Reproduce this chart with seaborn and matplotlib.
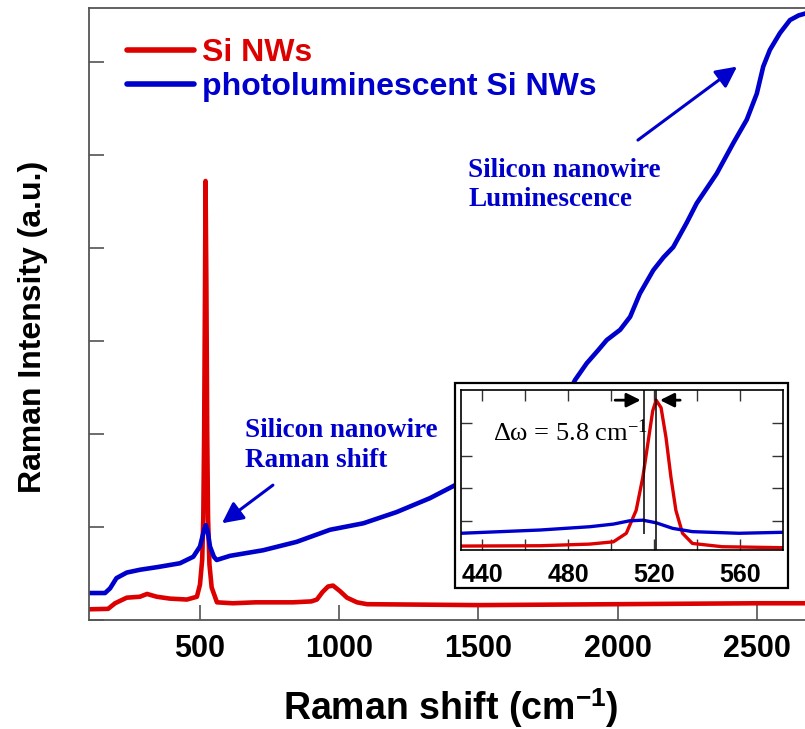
import numpy as np
import pandas as pd
import matplotlib
matplotlib.use("Agg")
import matplotlib.pyplot as plt
import matplotlib.patches as mpatches
import seaborn as sns

# ---------------- data ----------------
series_names = ["Si NWs", "photoluminescent Si NWs"]
series_colors = ["#DD0000", "#0000CC"]

red_x = [100, 170, 195, 237, 284, 310, 345, 392, 453, 489, 500, 508, 512, 515, 518,
         520, 523, 526, 529, 534, 542, 561, 618, 700, 834, 900, 920, 940, 960, 978,
         1003, 1028, 1064, 1100, 1500, 2000, 2500, 2700]
red_y = [0.115, 0.12, 0.18, 0.24, 0.25, 0.28, 0.25, 0.23, 0.22, 0.25, 0.38, 0.65, 1.1,
         2.0, 3.5, 4.72, 3.6, 2.0, 1.1, 0.6, 0.35, 0.19, 0.18, 0.19, 0.19, 0.2, 0.22,
         0.3, 0.36, 0.37, 0.31, 0.24, 0.19, 0.17, 0.16, 0.17, 0.18, 0.18]

blue_x = [100, 159, 177, 200, 237, 284, 350, 428, 476, 500, 515, 521, 528, 536, 550,
          560, 608, 727, 847, 967, 1087, 1206, 1326, 1410, 1500, 1600, 1700, 1800,
          1847, 1889, 1930, 1961, 2009, 2045, 2080, 2128, 2165, 2200, 2248, 2284,
          2320, 2356, 2416, 2464, 2500, 2523, 2547, 2583, 2619, 2650, 2673, 2700]
blue_y = [0.29, 0.29, 0.34, 0.45, 0.51, 0.54, 0.57, 0.61, 0.68, 0.79, 0.97, 1.02,
          0.95, 0.79, 0.68, 0.645, 0.69, 0.75, 0.84, 0.97, 1.04, 1.16, 1.31, 1.44,
          1.58, 1.77, 2.0, 2.3, 2.58, 2.76, 2.90, 3.01, 3.12, 3.26, 3.51, 3.76, 3.90,
          4.01, 4.27, 4.48, 4.64, 4.80, 5.13, 5.38, 5.66, 5.95, 6.13, 6.31, 6.45,
          6.50, 6.52, 6.53]

main_xticks = [500, 1000, 1500, 2000, 2500]
main_yticks = [0, 1, 2, 3, 4, 5, 6]

# inset (zoom on the Si phonon peak)
ins_red_x = [430, 467, 490, 501, 507, 511.6, 514.7, 517, 519.3, 520.9, 523.2, 525.5,
             527.8, 530.1, 533.2, 537.8, 551.7, 580]
ins_red_y = [0.24, 0.25, 0.30, 0.37, 0.63, 1.33, 2.34, 3.35, 4.36, 4.69, 4.46, 3.55,
             2.34, 1.33, 0.63, 0.32, 0.22, 0.19]
ins_blue_x = [430, 467, 490, 501, 508.5, 514.7, 520.9, 528.6, 537.8, 559.4, 580]
ins_blue_y = [0.63, 0.73, 0.83, 0.91, 1.01, 1.03, 0.95, 0.78, 0.68, 0.63, 0.66]
ins_major_ticks = [440, 480, 520, 560]
ins_minor_ticks = [460, 500, 540]
ins_yticks = [1, 2, 3, 4]
peak_positions = [515.1, 520.9]

# ---------------- style ----------------
sns.set_style("ticks")
plt.rcParams["font.family"] = ["Liberation Sans", "DejaVu Sans"]
plt.rcParams["mathtext.fontset"] = "custom"
plt.rcParams["mathtext.rm"] = "Liberation Serif"
plt.rcParams["mathtext.it"] = "Liberation Serif:italic"
plt.rcParams["mathtext.bf"] = "Liberation Sans:bold"
for k in ["text.color", "axes.labelcolor", "xtick.labelcolor", "ytick.labelcolor"]:
    plt.rcParams[k] = "black"

W, H = 805, 729
fig = plt.figure(figsize=(W / 100, H / 100), dpi=100)

def fx(px):
    return px / W

def fy(py):
    return 1 - py / H

# main axes (right end extends a bit past the figure edge)
x_left_px, x_right_px, y_top_px, y_bot_px = 88.6, 812.5, 8, 620
ax = fig.add_axes([fx(x_left_px), fy(y_bot_px), (x_right_px - x_left_px) / W,
                   (y_bot_px - y_top_px) / H])

df = pd.concat([
    pd.DataFrame({"shift": red_x, "intensity": red_y, "sample": series_names[0]}),
    pd.DataFrame({"shift": blue_x, "intensity": blue_y, "sample": series_names[1]}),
])
palette = dict(zip(series_names, series_colors))
sns.lineplot(data=df, x="shift", y="intensity", hue="sample", palette=palette,
             linewidth=3.3, ax=ax, sort=False, estimator=None)

ax.set_xlim(100, 2700)
ax.set_ylim(0, 6.58)
ax.set_xticks(main_xticks)
ax.set_xticklabels([str(t) for t in main_xticks], fontsize=22, fontweight="bold")
ax.set_yticks(main_yticks)
ax.set_yticklabels([])
ax.tick_params(axis="both", direction="in", length=11, width=1.1, color="#444444")
ax.tick_params(axis="x", pad=10)
for s in ["left", "top", "bottom"]:
    ax.spines[s].set_color("#555555")
    ax.spines[s].set_linewidth(1.3)
ax.spines["right"].set_visible(False)

ax.set_xlabel(r"Raman shift (cm$^{\mathbf{-1}}$)", fontsize=27, fontweight="bold")
ax.xaxis.set_label_coords(0.4997, -0.108)
ax.set_ylabel("Raman Intensity (a.u.)", fontsize=23, fontweight="bold")
ax.yaxis.set_label_coords(-0.056, 0.479)

leg = ax.legend(loc="upper left", bbox_to_anchor=(0.035, 0.972), frameon=False,
                prop={"weight": "bold", "size": 23}, labelcolor="linecolor",
                handlelength=2.1, handletextpad=0.25, labelspacing=0.12,
                borderaxespad=0)
for line in leg.get_lines():
    line.set_linewidth(4)

blue_txt = "#0000CC"
serif = ["Liberation Serif", "DejaVu Serif"]
ax.text(662, 2.17, "Silicon nanowire\nRaman shift", color=blue_txt, fontsize=19.5,
        fontweight="bold", family=serif, va="top", ha="left", linespacing=1.25)
ax.annotate("", xy=(579, 1.04), xytext=(762, 1.45),
            arrowprops=dict(arrowstyle="-|>,head_length=0.7,head_width=0.35",
                            color=blue_txt, lw=2.2, mutation_scale=18,
                            shrinkA=0, shrinkB=0))
ax.text(1463, 4.97, "Silicon nanowire\nLuminescence", color=blue_txt, fontsize=19.5,
        fontweight="bold", family=serif, va="top", ha="left", linespacing=1.25)
ax.annotate("", xy=(2429, 5.95), xytext=(2073, 5.16),
            arrowprops=dict(arrowstyle="-|>,head_length=0.7,head_width=0.35",
                            color=blue_txt, lw=2.2, mutation_scale=18,
                            shrinkA=0, shrinkB=0))

# ---------------- inset ----------------
frame = mpatches.Rectangle((fx(455), fy(588)), 333 / W, 205 / H,
                           transform=fig.transFigure, facecolor="white",
                           edgecolor="black", linewidth=1.6, zorder=1)
fig.patches.append(frame)

axi = fig.add_axes([fx(461), fy(550), 322 / W, 160 / H], zorder=2)
dfi = pd.concat([
    pd.DataFrame({"shift": ins_red_x, "intensity": ins_red_y, "sample": series_names[0]}),
    pd.DataFrame({"shift": ins_blue_x, "intensity": ins_blue_y, "sample": series_names[1]}),
])
sns.lineplot(data=dfi, x="shift", y="intensity", hue="sample", palette=palette,
             linewidth=2.4, ax=axi, sort=False, estimator=None, legend=False)
axi.set_xlim(430, 580)
axi.set_ylim(0.12, 5.0)
axi.set_xticks(ins_major_ticks)
axi.set_xticks(ins_minor_ticks, minor=True)
axi.set_xticklabels([str(t) for t in ins_major_ticks], fontsize=18, fontweight="bold")
axi.set_yticks(ins_yticks)
axi.set_yticklabels([])
axi.set_xlabel("")
axi.set_ylabel("")
axi.tick_params(which="both", direction="in", length=8, width=1, color="#333333",
                top=True, right=True, pad=9)
for s in axi.spines.values():
    s.set_color("black")
    s.set_linewidth(1.2)

axi.vlines(peak_positions[0], 0.61, 5.0, color="black", lw=1.1)
axi.vlines(peak_positions[1], 0.12, 5.0, color="black", lw=1.1)
axi.annotate("", xy=(peak_positions[0] - 1.4, 4.69), xytext=(501.8, 4.69),
             arrowprops=dict(arrowstyle="-|>,head_length=0.6,head_width=0.3",
                             color="black", lw=2, mutation_scale=14,
                             shrinkA=0, shrinkB=0))
axi.annotate("", xy=(peak_positions[1] + 1.8, 4.69), xytext=(532.1, 4.69),
             arrowprops=dict(arrowstyle="-|>,head_length=0.6,head_width=0.3",
                             color="black", lw=2, mutation_scale=14,
                             shrinkA=0, shrinkB=0))
axi.text(445, 3.45, r"Δω = 5.8 cm$^{\mathrm{-1}}$", fontsize=19, family=serif,
         color="black", va="baseline", ha="left")

fig.savefig("out.png", dpi=100)
